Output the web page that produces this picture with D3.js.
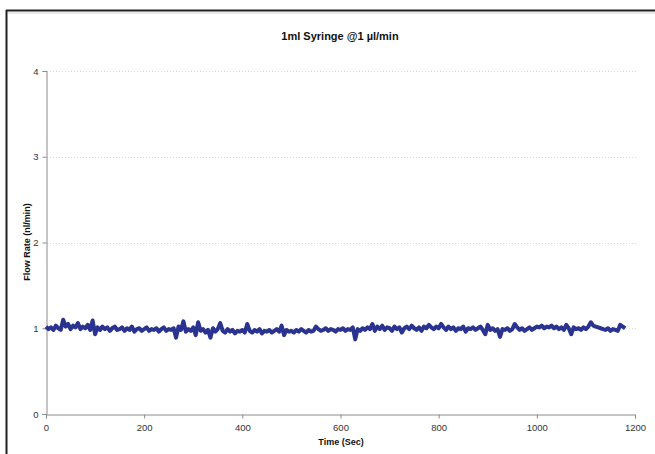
<!DOCTYPE html>
<html><head><meta charset="utf-8">
<script src="https://cdn.jsdelivr.net/npm/d3@7"></script>
<style>body{margin:0;background:#fff;}svg{display:block;font-family:"Liberation Sans",Arial,sans-serif;}</style>
</head><body>
<script>
const title = "1ml Syringe @1 µl/min";
const xLabel = "Time (Sec)";
const yLabel = "Flow Rate (nl/min)";
const xTicks = [0, 200, 400, 600, 800, 1000, 1200];
const yTicks = [0, 1, 2, 3, 4];
const timeStep = 5;
const flowRate = [
 1.02,0.99,1.01,0.98,1.03,1.00,0.98,1.10,1.02,1.05,0.99,1.03,1.01,1.06,0.99,1.02,1.00,1.04,0.98,1.09,
 0.93,1.01,0.98,1.02,0.99,1.01,0.97,1.00,1.02,0.98,0.99,1.01,0.97,1.00,0.98,1.02,0.96,0.99,1.00,0.97,
 0.99,1.01,0.97,0.99,0.98,1.00,0.96,0.99,1.01,0.97,0.99,0.98,1.00,0.89,1.02,0.98,1.08,0.96,0.99,0.97,
 1.01,0.92,1.07,0.97,0.99,0.95,0.98,0.89,1.00,0.96,0.99,1.06,0.97,0.95,0.99,0.96,0.98,0.94,0.97,0.96,
 0.98,0.95,1.05,0.97,0.95,0.98,0.96,0.99,0.94,0.97,0.96,0.98,0.95,0.97,0.99,0.96,1.03,0.92,0.98,0.96,
 0.97,0.95,0.98,0.96,0.99,0.97,0.95,0.98,0.96,0.97,1.02,0.99,0.97,0.98,1.00,0.97,0.99,0.98,0.96,0.99,
 0.98,1.00,0.97,0.99,0.98,1.01,0.87,0.99,0.97,1.00,0.98,1.01,0.99,1.05,0.97,1.02,0.99,1.03,0.98,1.01,
 1.00,0.97,1.02,0.99,1.01,0.95,1.00,1.02,0.99,1.03,1.00,0.98,1.01,0.97,1.02,1.00,1.04,1.01,0.99,1.02,
 1.00,1.05,1.01,0.98,1.02,0.99,1.01,0.97,1.00,0.99,1.02,0.96,1.00,0.99,1.01,0.98,1.00,1.02,0.98,0.93,
 1.04,0.98,1.00,0.97,0.99,0.90,0.99,0.98,1.00,0.97,0.99,1.05,1.01,0.98,1.00,0.97,0.99,1.01,0.98,1.00,
 1.02,1.01,1.03,1.00,1.02,1.01,1.03,1.00,1.02,0.99,1.01,0.98,1.04,1.00,0.93,1.01,0.99,1.00,0.98,1.01,
 0.99,1.02,1.07,1.03,1.02,1.01,1.00,0.99,0.98,1.00,0.97,0.99,0.98,0.97,1.04,1.02,1.00
];
const data = flowRate.map((v,i)=>({t:i*timeStep, v}));

const W=655,H=454;
const svg=d3.select("body").append("svg").attr("width",W).attr("height",H);
svg.append("rect").attr("width",W).attr("height",H).attr("fill","#fff");
// frame
svg.append("line").attr("x1",6).attr("x2",W).attr("y1",10.5).attr("y2",10.5).attr("stroke","#231f20").attr("stroke-width",2);
svg.append("line").attr("x1",6.5).attr("x2",6.5).attr("y1",10).attr("y2",H).attr("stroke","#231f20").attr("stroke-width",2);
svg.append("line").attr("x1",8).attr("x2",W).attr("y1",13).attr("y2",13).attr("stroke","#d0d4d6").attr("stroke-width",1);

const x=d3.scaleLinear().domain([0,1200]).range([46,635]);
const y=d3.scaleLinear().domain([0,4]).range([414,71]);

// grid
svg.append("g").selectAll("line").data(yTicks.filter(d=>d>0)).join("line")
 .attr("x1",47).attr("x2",636).attr("y1",d=>Math.round(y(d))+0.5).attr("y2",d=>Math.round(y(d))+0.5)
 .attr("stroke","#dadada").attr("stroke-dasharray","1,2").attr("stroke-width",1);

const xa=svg.append("g").attr("transform","translate(0,"+(Math.round(y(0))+0.5)+")")
 .call(d3.axisBottom(x).tickValues(xTicks).tickSize(4).tickPadding(6).tickFormat(d3.format("d")));
const ya=svg.append("g").attr("transform","translate("+(Math.round(x(0))+0.5)+",0)")
 .call(d3.axisLeft(y).tickValues(yTicks).tickSize(4).tickPadding(4).tickFormat(d3.format("d")));
[xa,ya].forEach(a=>{
 a.select(".domain").attr("stroke","#8c8c8c");
 a.selectAll(".tick line").attr("stroke","#8c8c8c");
 a.selectAll("text").attr("fill","#333").style("font-size","9.5px");
});

// line
svg.append("path").datum(data)
 .attr("d",d3.line().x(d=>x(d.t)).y(d=>y(d.v)))
 .attr("fill","none").attr("stroke","#2b3390").attr("stroke-width",4).attr("stroke-linejoin","round");

svg.append("text").attr("x",340).attr("y",40).attr("text-anchor","middle")
 .style("font-size","11px").style("font-weight","bold").attr("fill","#111").text(title);
svg.append("text").attr("x",341).attr("y",445).attr("text-anchor","middle")
 .style("font-size","9px").style("font-weight","bold").attr("fill","#111").text(xLabel);
svg.append("text").attr("transform","translate(30,242) rotate(-90)").attr("text-anchor","middle")
 .style("font-size","9px").style("font-weight","bold").attr("fill","#111").text(yLabel);
</script>
</body></html>
